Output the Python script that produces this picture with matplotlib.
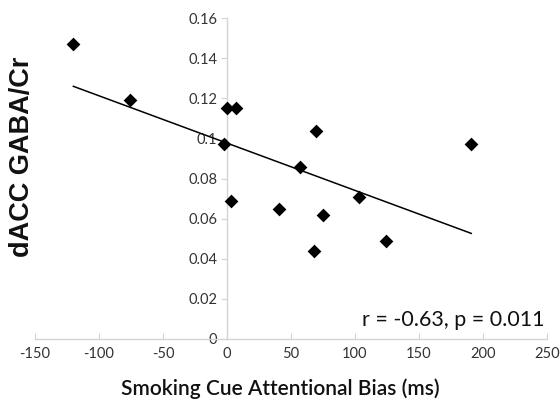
import numpy as np
import matplotlib
matplotlib.use("Agg")
import matplotlib.pyplot as plt

# Data
bias_ms = [-120, -76, 0, 7, -2.5, 3, 41, 57, 70, 68, 75, 103, 124, 191]
gaba_cr = [0.147, 0.119, 0.115, 0.115, 0.0975, 0.069, 0.065, 0.086, 0.104,
           0.044, 0.062, 0.071, 0.049, 0.0975]
x_ticks = [-150, -100, -50, 0, 50, 100, 150, 200, 250]
y_ticks = [0, 0.02, 0.04, 0.06, 0.08, 0.1, 0.12, 0.14, 0.16]
y_tick_labels = ["0", "0.02", "0.04", "0.06", "0.08", "0.1", "0.12", "0.14", "0.16"]
stats_text = "r = -0.63, p = 0.011"
x_label = "Smoking Cue Attentional Bias (ms)"
y_label = "dACC GABA/Cr"

W, H = 560, 405
fig = plt.figure(figsize=(W / 100, H / 100), dpi=100)
left, right = 35 / W, 546.7 / W
bottom, top = 1 - 339 / H, 1 - 18.3 / H
ax = fig.add_axes([left, bottom, right - left, top - bottom])

x = np.array(bias_ms)
y = np.array(gaba_cr)
ax.scatter(x, y, marker="D", s=7.0 ** 2, color="black", zorder=3, linewidths=0)

slope, intercept = np.polyfit(x, y, 1)
xl = np.array([x.min(), x.max()])
ax.plot(xl, slope * xl + intercept, color="black", lw=1.1, zorder=2)

ax.set_xlim(-150, 250)
ax.set_ylim(0, 0.16)
ax.set_xticks(x_ticks)
ax.set_xticklabels([str(t) for t in x_ticks])
ax.set_yticks(y_ticks)
ax.set_yticklabels(y_tick_labels)

spine_col = "#d4d4d4"
ax.spines["top"].set_visible(False)
ax.spines["right"].set_visible(False)
ax.spines["left"].set_position(("data", 0))
ax.spines["left"].set_color(spine_col)
ax.spines["bottom"].set_color(spine_col)
ax.spines["left"].set_linewidth(1.0)
ax.spines["bottom"].set_linewidth(1.0)

tick_font = "Lato"
ax.tick_params(axis="y", direction="out", length=4, color=spine_col, pad=3,
               labelsize=10.5, labelcolor="#333333")
ax.tick_params(axis="x", direction="in", length=4, color=spine_col, pad=6,
               labelsize=10.5, labelcolor="#333333")
for lab in ax.get_xticklabels() + ax.get_yticklabels():
    lab.set_fontfamily(tick_font)

ax.text(0.995, 0.06, stats_text, transform=ax.transAxes, ha="right", va="center",
        fontsize=15.5, family="Lato", color="#111111")

fig.text(280 / W, 1 - 389 / H, x_label, ha="center", va="center",
         fontsize=15, family="Lato", fontweight="semibold", color="#111111")
fig.text(22 / W, 1 - 157 / H, y_label, ha="center", va="center", rotation=90,
         fontsize=19.5, family="Liberation Sans", fontweight="bold", color="#111111")

fig.savefig("out.png", dpi=100)
